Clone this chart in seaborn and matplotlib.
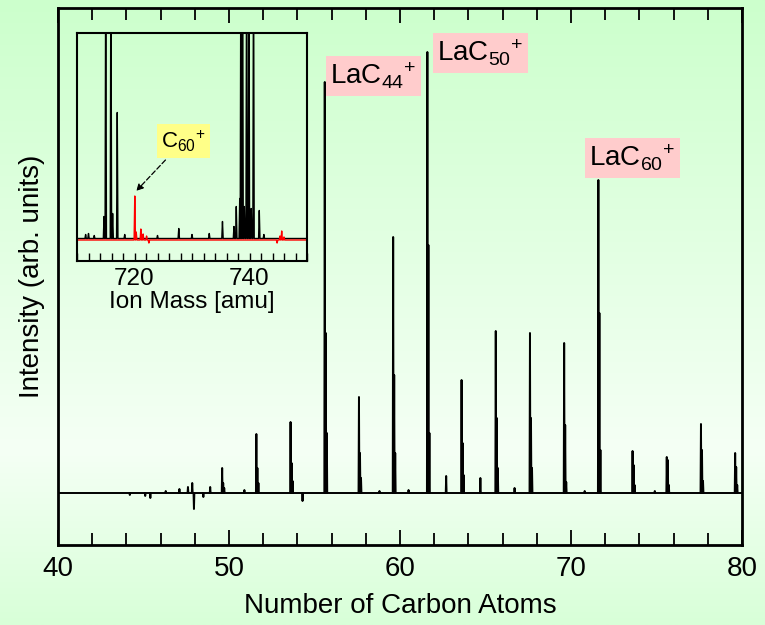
import numpy as np
import pandas as pd
import matplotlib
matplotlib.use("Agg")
import matplotlib.pyplot as plt
from matplotlib.ticker import MultipleLocator
import seaborn as sns

# ---------------- data ----------------
# main spectrum: cluster peaks (position in "number of carbon atoms" scale)
peak_pos = [49.6, 51.6, 53.6, 55.6, 57.6, 59.6, 61.6, 63.6, 65.6, 67.6, 69.6, 71.6, 73.6, 75.6, 77.6, 79.6]
peak_main = [25, 59, 71, 411, 96, 256, 441, 113, 162, 160, 150, 313, 42, 36, 69, 40]
peak_second = [10, 25, 30, 160, 40, 118, 248, 50, 75, 75, 68, 180, 28, 33, 43, 26]
peak_third = [5, 10, 12, 60, 15, 40, 60, 18, 25, 25, 11, 43, 8, 8, 12, 8]
# small extra features / noise spikes
extra_pos = [44.2, 45.1, 45.4, 46.3, 47.1, 47.6, 47.85, 47.95, 48.5, 48.9, 50.9, 54.3, 58.8, 60.5, 62.7, 64.7, 66.7, 70.8, 74.9]
extra_h = [-2, -3, -5, 2, 4, 6, 10, -16, -4, 6, 3, -8, 2, 3, 17, 15, 5, 2, 2]
labels = ["LaC$_{44}$$^{+}$", "LaC$_{50}$$^{+}$", "LaC$_{60}$$^{+}$"]
label_x = [58.45, 64.71, 73.6]
label_y = [417, 440, 335]

# inset spectrum (ion mass, amu)
inset_black_pos = [711.5, 712.0, 713.0, 714.7, 715.0, 715.9, 716.2, 717.0, 718.3, 724.0, 727.7, 730.0,
                   733.0, 735.3, 737.3, 737.7, 738.3, 738.5, 738.8, 739.1, 739.5, 739.9, 740.3, 740.7,
                   741.7, 742.5]
inset_black_h = [4, 5, 3, 22, 300, 300, 25, 126, 4, 3, 10, 4,
                 5, 17, 12, 32, 40, 300, 300, 32, 300, 300, 30, 300,
                 28, 4]
inset_red_pos = [720.05, 720.3, 721.1, 721.5, 722.1, 722.5, 744.8, 745.3, 745.6, 746.0]
inset_red_h = [44, 8, 11, 6, 4, -3, -3, 4, 9, 3]


def stick_frame(pos, h, x0, x1, base=0.0, w=0.02):
    """polyline through stick peaks on a flat baseline"""
    pts = sorted(zip(pos, h))
    xs, ys = [x0], [base]
    for p, v in pts:
        xs += [p - w, p, p + w]
        ys += [base, base + v, base]
    xs.append(x1)
    ys.append(base)
    return pd.DataFrame({"x": xs, "y": ys})


# main sticks combined
m_pos = list(peak_pos) + [p + 0.06 for p in peak_pos] + [p + 0.12 for p in peak_pos] + extra_pos
m_h = list(peak_main) + peak_second + peak_third + extra_h
df_main = stick_frame(m_pos, m_h, 40, 80, w=0.025)
df_black = stick_frame(inset_black_pos, inset_black_h, 710, 750, base=1.5, w=0.12)
df_red = stick_frame(inset_red_pos, inset_red_h, 710, 750, base=0.0, w=0.12)

# ---------------- style ----------------
sns.set_style("ticks")
plt.rcParams["font.family"] = ["Liberation Sans", "DejaVu Sans"]
plt.rcParams["mathtext.fontset"] = "custom"
plt.rcParams["mathtext.rm"] = "Liberation Sans"
plt.rcParams["mathtext.it"] = "Liberation Sans:italic"
plt.rcParams["mathtext.bf"] = "Liberation Sans:bold"
for k in ["text.color", "axes.labelcolor", "xtick.color", "ytick.color", "axes.edgecolor"]:
    plt.rcParams[k] = "black"

fig = plt.figure(figsize=(7.65, 6.25), dpi=100)

# gradient background
bg = fig.add_axes([0, 0, 1, 1], zorder=-10)
stops_y = [0.0, 0.72, 1.0]
stops_c = np.array([[204, 255, 204], [245, 255, 245], [216, 255, 216]]) / 255.0
yy = np.linspace(0, 1, 300)
grad = np.stack([np.interp(yy, stops_y, stops_c[:, i]) for i in range(3)], axis=-1)
bg.imshow(grad[:, None, :], aspect="auto", extent=[0, 1, 0, 1], origin="upper")
bg.set_axis_off()

# main axes
ax = fig.add_axes([58 / 765, 1 - 545 / 625, (742 - 58) / 765, (545 - 8) / 625])
ax.patch.set_alpha(0)
sns.lineplot(data=df_main, x="x", y="y", estimator=None, sort=False, color="black",
             lw=1.4, ax=ax)
ax.set_xlim(40, 80)
ax.set_ylim(-52, 485)
ax.xaxis.set_major_locator(MultipleLocator(10))
ax.xaxis.set_minor_locator(MultipleLocator(2))
ax.set_yticks([])
ax.tick_params(axis="x", which="both", direction="in", top=True, bottom=True, width=1.3,
               labelsize=20, pad=8, color="black", labelcolor="black")
ax.tick_params(axis="x", which="major", length=11)
ax.tick_params(axis="x", which="minor", length=8.5)
for s in ax.spines.values():
    s.set_linewidth(2)
    s.set_color("black")
ax.set_xlabel("Number of Carbon Atoms", fontsize=20, labelpad=8)
ax.set_ylabel("Intensity (arb. units)", fontsize=20, labelpad=9)

for t, x, y in zip(labels, label_x, label_y):
    ax.text(x, y, t, fontsize=20, ha="center", va="center",
            bbox=dict(boxstyle="square,pad=0.17", fc="#ffcccc", ec="none"))

# inset axes
ins = fig.add_axes([77 / 765, 1 - 261 / 625, (307 - 77) / 765, (261 - 33) / 625])
ins.patch.set_alpha(0)
sns.lineplot(data=df_black, x="x", y="y", estimator=None, sort=False, color="black",
             lw=1.0, ax=ins)
sns.lineplot(data=df_red, x="x", y="y", estimator=None, sort=False, color="#ff0000",
             lw=1.0, ax=ins)
ins.set_xlim(710, 750)
ins.set_ylim(-21, 207)
ins.set_xticks([720, 740])
ins.xaxis.set_minor_locator(MultipleLocator(2))
ins.set_yticks([])
ins.tick_params(axis="x", which="both", direction="in", bottom=True, top=False, length=6,
                width=1.0, labelsize=17.5, pad=5)
for s in ins.spines.values():
    s.set_linewidth(1.5)
    s.set_color("black")
ins.set_xlabel("Ion Mass [amu]", fontsize=17.5, labelpad=1)
ins.set_ylabel("")
ins.annotate("C$_{60}$$^{+}$", xy=(720.3, 49), xytext=(728.5, 99),
             fontsize=16, ha="center", va="center",
             bbox=dict(boxstyle="square,pad=0.2", fc="#ffff88", ec="none"),
             arrowprops=dict(arrowstyle="-|>", color="black", lw=0.9, ls=(0, (4, 2)),
                             shrinkA=2, shrinkB=0, mutation_scale=10))

fig.savefig("out.png", dpi=100)
